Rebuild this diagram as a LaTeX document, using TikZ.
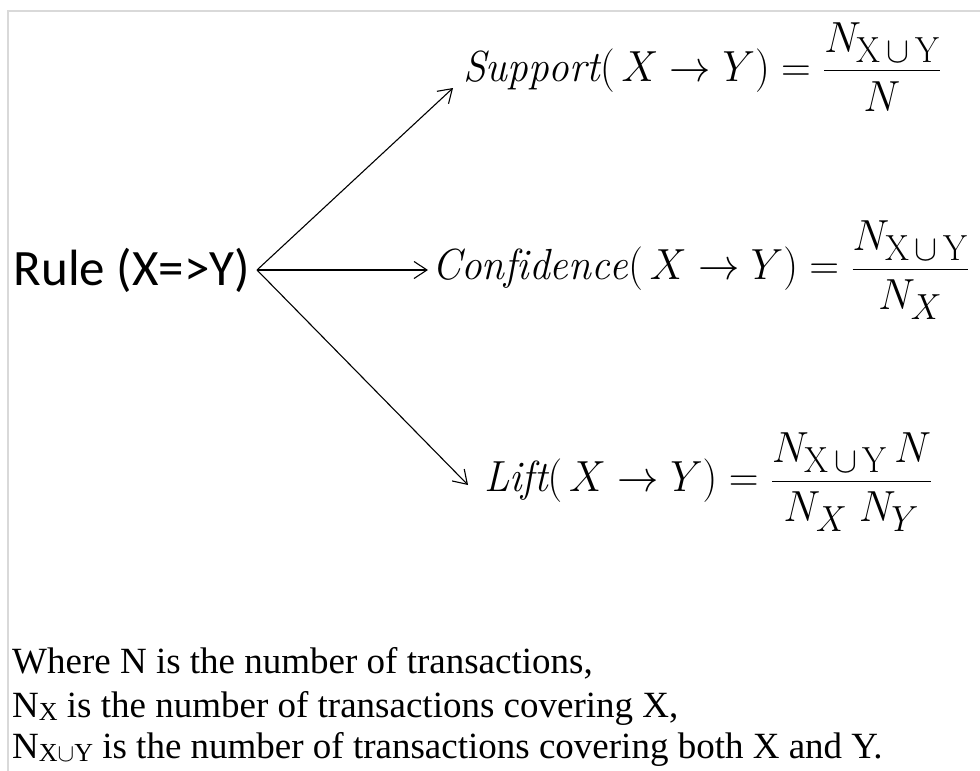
\documentclass[tikz,border=0pt]{standalone}
\usepackage{graphicx}
\usepackage{fontspec}
\newfontfamily\calib{Carlito}
\newfontfamily\tnr{Liberation Serif}
\usetikzlibrary{arrows.meta}
\definecolor{framegray}{RGB}{217,217,217}
\newcommand{\subtxt}[1]{\raisebox{-3pt}{\fontsize{26}{26}\selectfont #1}}
\newcommand{\bigeq}[1]{\scalebox{1.66}[1.75]{\Huge$\displaystyle #1$}}
\begin{document}
\begin{tikzpicture}[x=1pt,y=-1pt,
  arr/.style={-{Straight Barb[length=13pt,width=17pt]}, line width=1.1pt},
  eq/.style={anchor=west, inner sep=0pt},
  note/.style={anchor=base west, inner sep=0pt, font=\tnr\fontsize{37}{44}\selectfont}]
\useasboundingbox (0,0) rectangle (980,771);
\draw[framegray, line width=1.5pt] (980,11) -- (8,11) -- (8,771);

\node[anchor=east, inner xsep=0pt, font=\calib\fontsize{51}{58}\selectfont] (rule) at (250,270) {Rule (X=>Y)};
\coordinate (fan) at (257,270);

\node[eq] (sup) at (463,67) {\bigeq{\mathit{Support}(\,X\rightarrow Y) = \frac{N_{\mathrm{X}\,\cup\,\mathrm{Y}}}{N}}};
\node[eq] (conf) at (432,270) {\bigeq{\mathit{Confidence}(\,X\rightarrow Y) = \frac{N_{\mathrm{X}\,\cup\,\mathrm{Y}}}{N_X}}};
\node[eq] (lift) at (484,482) {\bigeq{\mathit{Lift}(\,X\rightarrow Y) = \frac{N_{\mathrm{X}\,\cup\,\mathrm{Y}}\,N}{N_X\;N_Y}}};

\coordinate (tipS) at (453,88);
\coordinate (tipC) at (428,270);
\coordinate (tipL) at (468,485);
\draw[arr] (fan) -- (tipS);
\draw[arr] (fan) -- (tipC);
\draw[arr] (fan) -- (tipL);

\node[note] (n1) at (12,673) {Where N is the number of transactions,};
\node[note] (n2) at (12,717) {N\subtxt{X} is the number of transactions covering X,};
\node[note] (n3) at (12,758) {N\subtxt{X$\cup$Y} is the number of transactions covering both X and Y.};
\end{tikzpicture}
\end{document}
